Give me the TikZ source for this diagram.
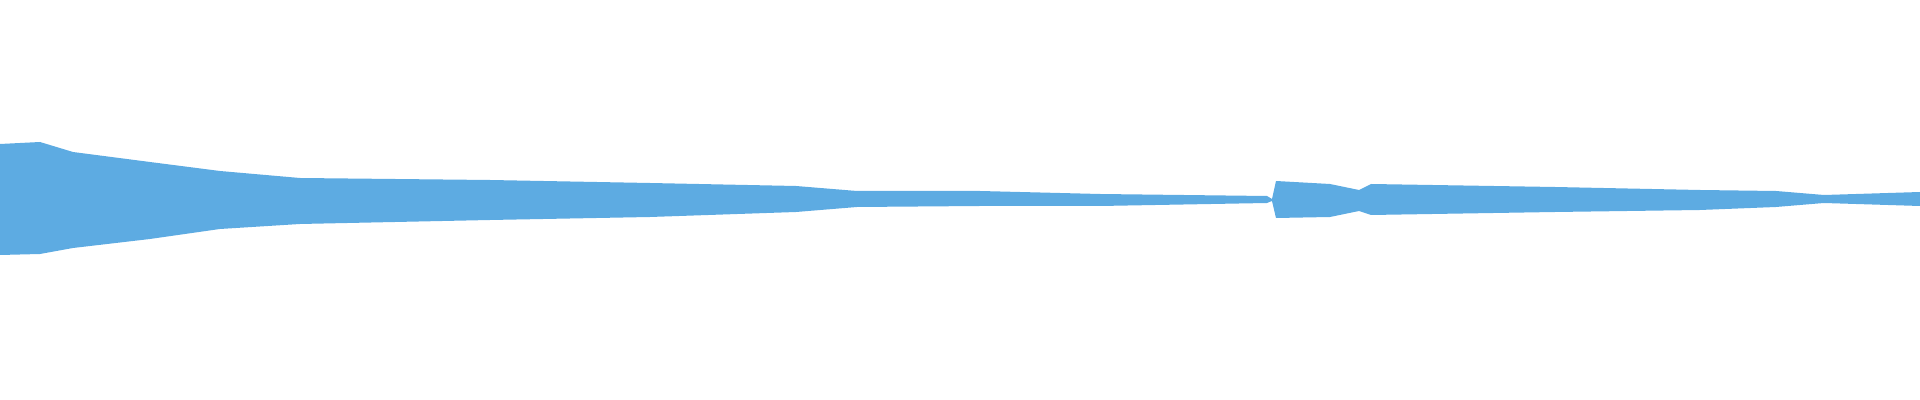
\documentclass[tikz,border=0pt]{standalone}
\definecolor{wave}{RGB}{93,171,226}
\begin{document}
\begin{tikzpicture}[x=0.01cm,y=0.01cm]
\useasboundingbox (0,0) rectangle (1920,400);
% upper and lower envelope of the signal
\fill[wave] (0,256) -- (40,258) -- (73,248) -- (150,238) -- (220,229) -- (300,222)
  -- (490,220) -- (650,217) -- (796,214) -- (857,209) -- (980,209) -- (1100,206)
  -- (1267,204) -- (1272,201) -- (1276,219) -- (1330,216) -- (1359,210) -- (1371,216)
  -- (1555,213) -- (1700,210) -- (1776,209) -- (1824,205) -- (1920,208)
  -- (1920,194) -- (1824,197) -- (1776,193) -- (1700,190) -- (1555,188)
  -- (1371,185) -- (1359,189) -- (1330,183) -- (1276,182) -- (1272,199)
  -- (1267,197) -- (1100,194) -- (980,194) -- (857,193) -- (796,188) -- (650,183)
  -- (490,180) -- (300,176) -- (220,171) -- (150,161) -- (73,152) -- (40,146)
  -- (0,145) -- cycle;
\end{tikzpicture}
\end{document}
